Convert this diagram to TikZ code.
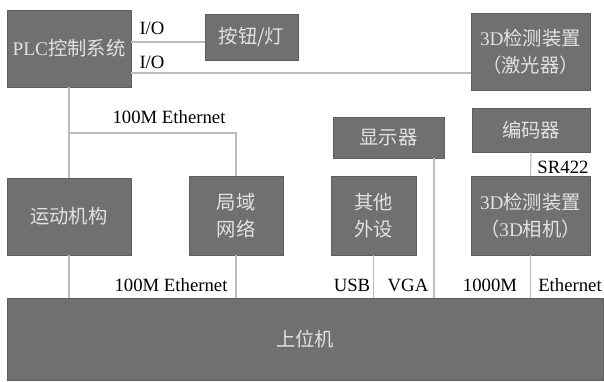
\documentclass[tikz,border=0pt]{standalone}
\usepackage{fontspec}
\setmainfont{Liberation Serif}
\newfontfamily\cjk{Noto Sans CJK SC}
\definecolor{BoxGray}{HTML}{707070}
\definecolor{BoxEdge}{HTML}{5E5E5E}
\definecolor{BoxText}{HTML}{E2E2E2}
\definecolor{WireGray}{HTML}{BDBDBD}
\tikzset{
  blk/.style={draw=BoxEdge,fill=BoxGray,text=BoxText,align=center,inner sep=0pt,
    line width=.6pt,font=\fontsize{16.5}{23}\selectfont},
  wire/.style={draw=WireGray,line width=1pt},
  lbl/.style={font=\fontsize{16}{19}\selectfont,inner sep=0pt}
}
\begin{document}
\begin{tikzpicture}[x=0.03cm,y=-0.03cm]
\path[use as bounding box] (0,0) rectangle (604,381);
% boxes
\node[blk,minimum width=3.72cm,minimum height=2.31cm] (plc) at (69,48.5) {PLC{\cjk 控制系统}};
\node[blk,minimum width=2.79cm,minimum height=1.38cm] (btn) at (251.5,37) {\cjk 按钮/灯};
\node[blk,minimum width=3.57cm,minimum height=2.31cm] (laser) at (530.5,51.5) {3D{\cjk 检测装置}\\{\cjk （激光器）}};
\node[blk,minimum width=3.72cm,minimum height=2.31cm] (motion) at (69,216.5) {\cjk 运动机构};
\node[blk,minimum width=2.82cm,minimum height=2.37cm] (lan) at (236,215.5) {\cjk 局域\\\cjk 网络};
\node[blk,minimum width=3.33cm,minimum height=1.23cm] (disp) at (388.5,137.5) {\cjk 显示器};
\node[blk,minimum width=3.54cm,minimum height=1.32cm] (enc) at (531,130) {\cjk 编码器};
\node[blk,minimum width=2.55cm,minimum height=2.37cm] (other) at (373.5,215.5) {\cjk 其他\\\cjk 外设};
\node[blk,minimum width=3.57cm,minimum height=2.37cm] (cam) at (530.5,215.5) {3D{\cjk 检测装置}\\{\cjk （}3D{\cjk 相机）}};
\node[blk,minimum width=17.88cm,minimum height=2.46cm] (host) at (305,339) {\cjk 上位机};
% connectors
\draw[wire] (plc.east |- 0,42) -- (btn.west |- 0,42);
\draw[wire] (plc.east |- 0,73) -- (laser.west |- 0,73);
\draw[wire] (plc.south) -- (motion.north);
\draw[wire] (plc.south |- 0,133) -| (lan.north);
\draw[wire] (motion.south) -- (motion.south |- host.north);
\draw[wire] (lan.south) -- (lan.south |- host.north);
\draw[wire] (other.south) -- (other.south |- host.north);
\draw[wire] (disp.south -| 434,0) -- (host.north -| 434,0);
\draw[wire] (enc.south) -- (cam.north);
\draw[wire] (cam.south) -- (cam.south |- host.north);
% labels
\node[lbl] (io1) at (152,28) {I/O};
\node[lbl] (io2) at (152,62) {I/O};
\node[lbl] (eth1) at (169,117) {100M Ethernet};
\node[lbl] (eth2) at (171,285) {100M Ethernet};
\node[lbl] (sr) at (563,167) {SR422};
\node[lbl] (usb) at (352,285) {USB};
\node[lbl] (vga) at (408,285) {VGA};
\node[lbl] (gig) at (490,285) {1000M};
\node[lbl] (eth3) at (570,285) {Ethernet};
\end{tikzpicture}
\end{document}
